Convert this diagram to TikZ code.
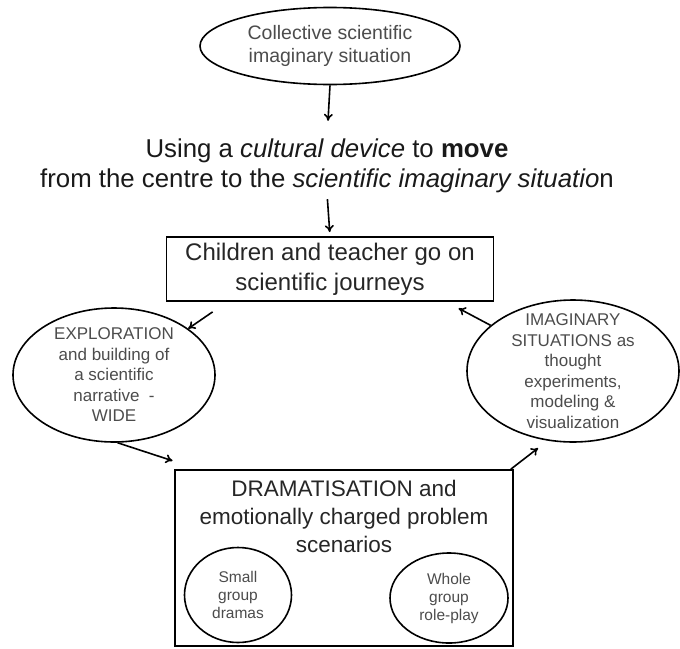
\documentclass[tikz,border=0pt]{standalone}
\usepackage{fontspec}
\setmainfont{Liberation Sans}
\usetikzlibrary{shapes.geometric,arrows.meta}

\begin{document}
\begin{tikzpicture}[x=1pt, y=-1pt,
    bubble/.style={draw, ellipse, line width=1.6pt, inner sep=0pt, align=center, text=black!70},
    frame/.style={draw, rectangle, line width=1.8pt, inner sep=0pt, align=center, text=black!85},
    arr/.style={-{To[length=7pt,width=9pt]}, line width=1.6pt},
    bubtxt/.style={text=black!70, align=center, font=\fontsize{17}{20.5}\selectfont}]
    \useasboundingbox (0,0) rectangle (680,648);

    % Top: collective situation
    \node[bubble, minimum width=260, minimum height=77,
          font=\fontsize{19.5}{23}\selectfont] (collective) at (330,46)
          {Collective scientific\\imaginary situation};

    % Middle text
    \node[align=center, text=black!90, inner sep=0pt,
          font=\fontsize{25.8}{30}\selectfont] (device) at (327,166)
          {Using a \textit{cultural device} to \textbf{move}\\
           from the centre to the \textit{scientific imaginary situatio}n};

    % Journeys box
    \node[frame, minimum width=327, minimum height=64,
          font=\fontsize{24}{30}\selectfont] (journey) at (330,269)
          {Children and teacher go on\\scientific journeys};

    % Left bubble
    \node[bubble, minimum width=202, minimum height=134,
          label={[bubtxt]center:{EXPLORATION\\and building of\\a scientific\\narrative~~-\\WIDE}}]
          (explore) at (114,375) {};

    % Right bubble
    \node[bubble, minimum width=212, minimum height=142,
          label={[bubtxt]center:{IMAGINARY\\SITUATIONS as\\thought\\experiments,\\modeling \&\\visualization}}]
          (imag) at (573,371) {};

    % Dramatisation box
    \node[frame, minimum width=338, minimum height=176] (drama) at (344,558) {};
    \node[align=center, text=black!85, inner sep=0pt,
          font=\fontsize{22.5}{28}\selectfont, anchor=north] (dramatext) at (344,480)
          {DRAMATISATION and\\emotionally charged problem\\scenarios};

    % Small groups inside
    \node[bubble, minimum width=107, minimum height=95,
          font=\fontsize{15.5}{18}\selectfont] (small) at (238,595)
          {Small\\group\\dramas};
    \node[bubble, minimum width=118, minimum height=90,
          font=\fontsize{15.5}{18}\selectfont] (whole) at (449,598)
          {Whole\\group\\role-play};

    % Arrows
    \draw[arr, shorten >=18pt] (collective.south) -- (device.north);
    \draw[arr, shorten <=6pt, shorten >=4pt] (device.south) -- (journey.north);
    \draw[arr] (journey.south west) ++(47,10) -- (explore.32);
    \draw[arr] (explore.-87) -- ++(55,18);
    \draw[arr] (imag.151) -- ++(-32,-17);
    \draw[arr, shorten >=12pt] ([xshift=-3pt]drama.north east) -- (imag.250);
\end{tikzpicture}
\end{document}
